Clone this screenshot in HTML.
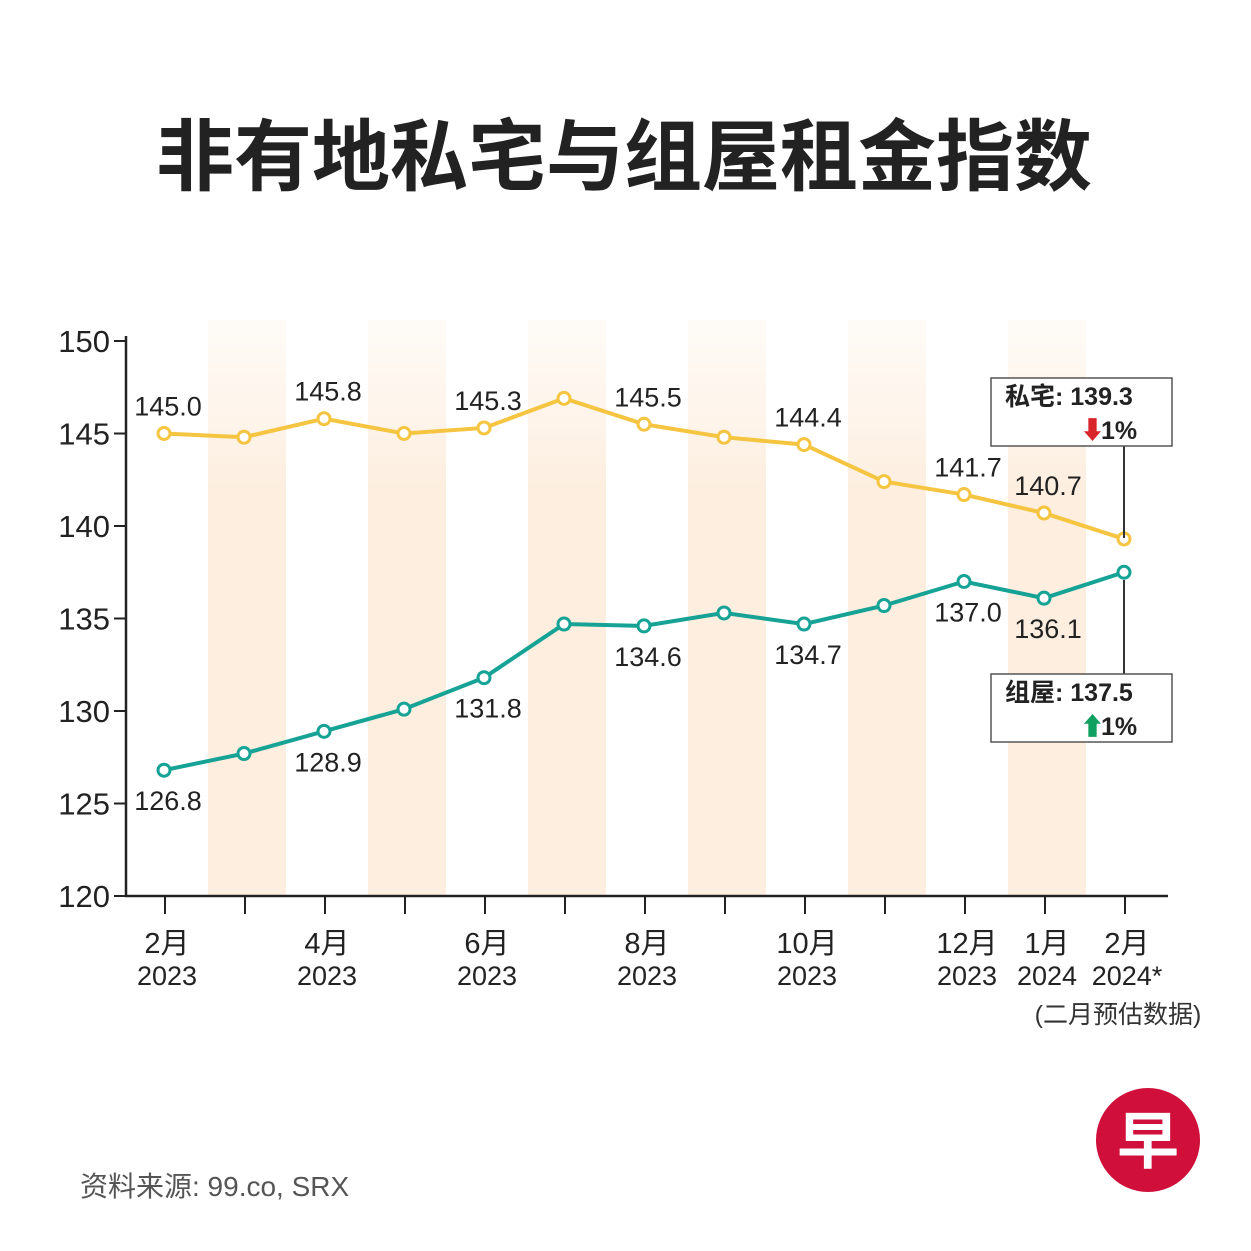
<!DOCTYPE html>
<html><head><meta charset="utf-8">
<style>
body{margin:0;background:#fff;}
#wrap{position:relative;width:1251px;height:1251px;overflow:hidden;background:#fff;font-family:"Liberation Sans","Noto Sans CJK SC",sans-serif;}
</style></head>
<body>
<div id="wrap">
<svg id="chart" width="1251" height="1251" xmlns="http://www.w3.org/2000/svg">
<defs>
<linearGradient id="stripe" x1="0" y1="0" x2="0" y2="1">
<stop offset="0" stop-color="#fdf1e4" stop-opacity="0.3"/>
<stop offset="0.3" stop-color="#fdeedf" stop-opacity="1"/>
<stop offset="1" stop-color="#fdeedf" stop-opacity="1"/>
</linearGradient>
</defs>
<text x="624" y="184" text-anchor="middle" font-size="78" font-weight="bold" fill="#222" font-family="'Noto Sans CJK SC',sans-serif">非有地私宅与组屋租金指数</text>
<g id="stripes"></g>
<g id="axes"></g>
<g id="series"></g>
<g id="labels"></g>
<g>
<line x1="1124" y1="446" x2="1124" y2="538" stroke="#333" stroke-width="2"/>
<rect x="991" y="378" width="181" height="68" fill="#fff" stroke="#555" stroke-width="1.5"/>
<text x="1005" y="405" font-size="25" font-weight="bold" fill="#222">私宅: 139.3</text>
<text x="1080" y="439" font-size="25" font-weight="bold" fill="#d9262b">⬇</text>
<text x="1101" y="439" font-size="25" font-weight="bold" fill="#222">1%</text>
</g>
<g>
<line x1="1124" y1="580" x2="1124" y2="674" stroke="#333" stroke-width="2"/>
<rect x="991" y="674" width="181" height="68" fill="#fff" stroke="#555" stroke-width="1.5"/>
<text x="1005" y="701" font-size="25" font-weight="bold" fill="#222">组屋: 137.5</text>
<text x="1080" y="735" font-size="25" font-weight="bold" fill="#10a060">⬆</text>
<text x="1101" y="735" font-size="25" font-weight="bold" fill="#222">1%</text>
</g>
<text x="1118" y="1023" text-anchor="middle" font-size="25" fill="#333">(二月预估数据)</text>
<text x="80" y="1196" font-size="28" fill="#555">资料来源: 99.co, SRX</text>
<g>
<circle cx="1148" cy="1140" r="52" fill="#d0103a"/>
<text x="1148" y="1163" text-anchor="middle" font-size="62" font-weight="bold" fill="#fff" font-family="'Noto Sans CJK SC',sans-serif">早</text>
</g>
</svg>
</div>
<script>
const months = ["2月","","4月","","6月","","8月","","10月","","12月","1月","2月"];
const years = ["2023","","2023","","2023","","2023","","2023","","2023","2024","2024*"];
const privateVals = [145.0,144.8,145.8,145.0,145.3,146.9,145.5,144.8,144.4,142.4,141.7,140.7,139.3];
const hdbVals = [126.8,127.7,128.9,130.1,131.8,134.7,134.6,135.3,134.7,135.7,137.0,136.1,137.5];
const privateShown = ["145.0","","145.8","","145.3","","145.5","","144.4","","141.7","140.7",""];
const hdbShown = ["126.8","","128.9","","131.8","","134.6","","134.7","","137.0","136.1",""];
const yTicks = [120,125,130,135,140,145,150];

const NS="http://www.w3.org/2000/svg";
const x = i => 164 + i*80;
const y = v => 896 - (v-120)*18.5;
function mk(tag, attrs, parent){const e=document.createElementNS(NS,tag);for(const k in attrs)e.setAttribute(k,attrs[k]);parent.appendChild(e);return e;}
const gS=document.getElementById('stripes'),gA=document.getElementById('axes'),gL=document.getElementById('series'),gT=document.getElementById('labels');

for(let i=0;i<months.length-1;i+=2){
  const r=mk('rect',{x:x(i)+44,y:320,width:78,height:576,fill:'url(#stripe)'},gS);
  
  
}
let ax=mk('line',{x1:126,y1:336,x2:126,y2:897,stroke:'#222','stroke-width':2.5},gA);


ax=mk('line',{x1:125,y1:896,x2:1168,y2:896,stroke:'#222','stroke-width':2.5},gA);


yTicks.forEach(t=>{
  mk('line',{x1:114,y1:y(t),x2:126,y2:y(t),stroke:'#222','stroke-width':2},gA);
  const tx=mk('text',{x:110,y:y(t)+11,'text-anchor':'end','font-size':31,fill:'#222'},gA);
  tx.textContent=t;
  
  
});
months.forEach((m,i)=>{
  mk('line',{x1:x(i)+1,y1:896,x2:x(i)+1,y2:914,stroke:'#222','stroke-width':2},gA);
  if(m){
    let t=mk('text',{x:x(i)+3,y:953,'text-anchor':'middle','font-size':29,fill:'#222'},gA);
    t.textContent=m;
    
    
    t=mk('text',{x:x(i)+3,y:985,'text-anchor':'middle','font-size':27,fill:'#222'},gA);
    t.textContent=years[i];
    
    
  }
});
function series(vals,color,name){
  const p=mk('polyline',{points:vals.map((v,i)=>x(i)+','+y(v)).join(' '),fill:'none',stroke:color,'stroke-width':4},gL);
  
  
  vals.forEach((v,i)=>{
    const c=mk('circle',{cx:x(i),cy:y(v),r:6,fill:'#fff',stroke:color,'stroke-width':3},gL);
    
    
  });
}
series(privateVals,'#f5c542','private');
series(hdbVals,'#16a395','hdb');
privateVals.forEach((v,i)=>{
  if(!privateShown[i])return;
  const t=mk('text',{x:x(i)+4,y:y(v)-18,'text-anchor':'middle','font-size':27,fill:'#222'},gT);
  t.textContent=privateShown[i];
  
  
});
hdbVals.forEach((v,i)=>{
  if(!hdbShown[i])return;
  const t=mk('text',{x:x(i)+4,y:y(v)+40,'text-anchor':'middle','font-size':27,fill:'#222'},gT);
  t.textContent=hdbShown[i];
  
  
});
</script>
</body></html>
